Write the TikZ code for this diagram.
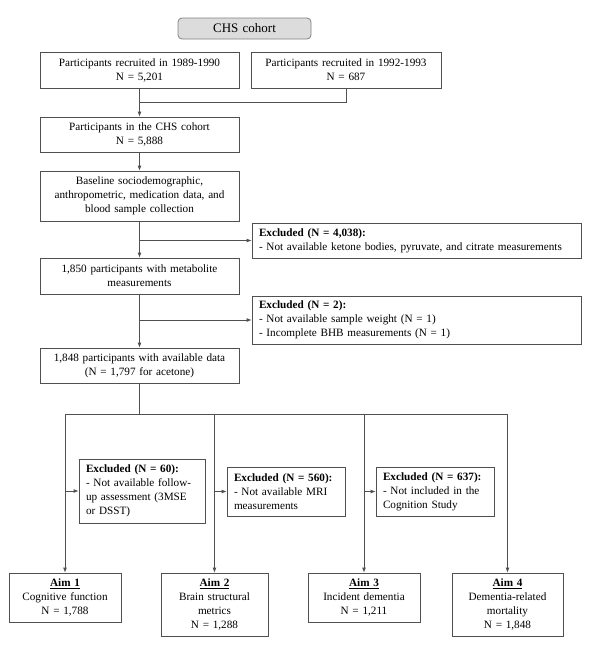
\documentclass[tikz,border=0pt]{standalone}
\usepackage{fontspec}
\setmainfont{Liberation Serif}
\usetikzlibrary{arrows.meta}
\definecolor{boxline}{HTML}{505050}
\definecolor{cohortfill}{HTML}{DCDCDC}
\newcommand{\flowsize}{\fontsize{11.2}{14}\selectfont}
\tikzset{
    box/.style={draw=boxline, line width=0.8pt, font=\flowsize, align=center, inner xsep=3pt, inner ysep=2pt},
    exbox/.style={box, align=left, inner xsep=7pt},
    link/.style={draw=boxline, line width=0.8pt},
    arr/.style={link, -{Latex[length=5pt,width=4pt]}},
}
\begin{document}
\begin{tikzpicture}[x=1pt,y=-1pt]
        \useasboundingbox (0,0) rectangle (597,645);

        % top of the chart
        \node[box, rounded corners=4pt, fill=cohortfill, draw=gray, text width=127pt, minimum height=21pt, font=\fontsize{13}{16}\selectfont] (chs) at (244.5,28.5) {CHS cohort};
        \node[box, text width=193pt, minimum height=36pt] (rec1) at (139.5,70) {Participants recruited in 1989-1990\\N = 5,201};
        \node[box, text width=184pt, minimum height=36pt] (rec2) at (346,70) {Participants recruited in 1992-1993\\N = 687};
        \node[box, text width=193pt, minimum height=35pt] (cohort) at (139.5,134.5) {Participants in the CHS cohort\\N = 5,888};
        \node[box, text width=193pt, minimum height=50pt] (base) at (139.5,196) {Baseline sociodemographic,\\anthropometric, medication data, and\\blood sample collection};
        \node[box, text width=193pt, minimum height=36pt] (meta) at (139.5,276) {1,850 participants with metabolite\\measurements};
        \node[box, text width=193pt, minimum height=35pt] (avail) at (139.5,365.5) {1,848 participants with available data\\(N = 1,797 for acetone)};

        % exclusions
        \node[exbox, text width=315pt, minimum height=35pt] (ex1) at (416.5,240.5) {\textbf{Excluded (N = 4,038):}\\- Not available ketone bodies, pyruvate, and citrate measurements};
        \node[exbox, text width=315pt, minimum height=48pt] (ex2) at (416.5,320) {\textbf{Excluded (N = 2):}\\- Not available sample weight (N = 1)\\- Incomplete BHB measurements (N = 1)};
        \node[exbox, text width=112pt, minimum height=64pt] (exA) at (142,491) {\textbf{Excluded (N = 60):}\\- Not available follow-\\up assessment (3MSE\\or DSST)};
        \node[exbox, text width=104pt, minimum height=49pt] (exB) at (286,491.5) {\textbf{Excluded (N = 560):}\\- Not available MRI\\measurements};
        \node[exbox, text width=104pt, minimum height=49pt] (exC) at (435,491.5) {\textbf{Excluded (N = 637):}\\- Not included in the\\Cognition Study};

        % aims
        \node[box, text width=106pt, minimum height=49pt] (aim1) at (65,597.5) {\textbf{\underline{Aim 1}}\\Cognitive function\\N = 1,788};
        \node[box, text width=101pt, minimum height=63pt] (aim2) at (214.5,604.5) {\textbf{\underline{Aim 2}}\\Brain structural\\metrics\\N = 1,288};
        \node[box, text width=106pt, minimum height=49pt] (aim3) at (364,597.5) {\textbf{\underline{Aim 3}}\\Incident dementia\\N = 1,211};
        \node[box, text width=105pt, minimum height=63pt] (aim4) at (507.5,604.5) {\textbf{\underline{Aim 4}}\\Dementia-related\\mortality\\N = 1,848};

        % connectors
        \coordinate (join) at (139.5,102);
        \coordinate (split) at (139.5,414);
        \draw[link] (rec2.south) |- (join);
        \draw[link] (rec1.south) -- (join);
        \draw[arr] (join) -- (cohort.north);
        \draw[arr] (cohort) -- (base);
        \draw[arr] (base) -- (meta);
        \draw[arr] (meta) -- (avail);
        \draw[arr] (base.south |- ex1.west) -- (ex1.west);
        \draw[arr] (meta.south |- ex2.west) -- (ex2.west);
        \draw[link] (avail.south) -- (split);
        \draw[link] (aim1.north |- split) -- (aim4.north |- split);
        \foreach \n in {1,...,4}
        {
            \draw[arr] (aim\n.north |- split) -- (aim\n.north);
        }
        \foreach \a/\e in {1/exA,2/exB,3/exC}
        {
            \draw[arr] (aim\a.north |- \e.west) -- (\e.west);
        }
\end{tikzpicture}
\end{document}
